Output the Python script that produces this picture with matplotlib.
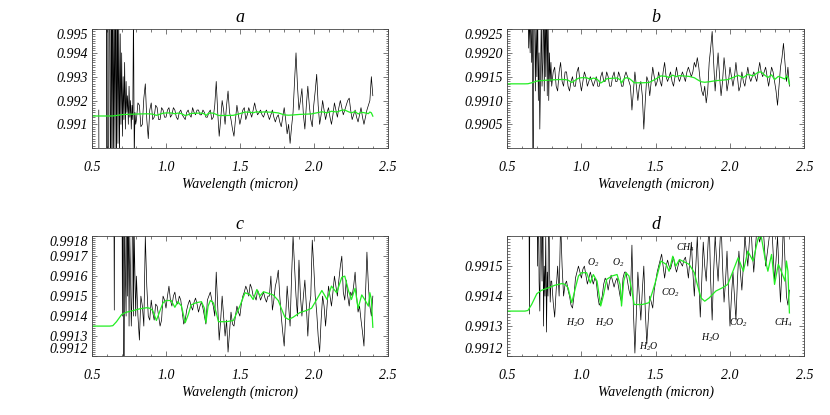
import numpy as np
import matplotlib
matplotlib.use('Agg')
import matplotlib.pyplot as plt
from matplotlib.ticker import MultipleLocator, AutoMinorLocator

plt.rcParams['font.family'] = 'Liberation Serif'
plt.rcParams['font.style'] = 'italic'
plt.rcParams['mathtext.fontset'] = 'custom'
plt.rcParams['mathtext.rm'] = 'Liberation Serif:italic'
plt.rcParams['mathtext.it'] = 'Liberation Serif:italic'

# common wavelength grid for the noisy part of the spectra (micron)
wl_main = np.round(np.arange(0.80, 2.401, 0.01), 2)

# panel a: noisy spectrum, early part then main grid
a_early_x = [0.545, 0.55, 0.595, 0.60, 0.605, 0.61, 0.615, 0.62, 0.625, 0.63, 0.635, 0.64,
             0.645, 0.65, 0.655, 0.66, 0.665, 0.67, 0.675, 0.68, 0.685, 0.69, 0.695, 0.70,
             0.705, 0.71, 0.715, 0.72, 0.725, 0.73, 0.735, 0.74, 0.745, 0.75, 0.755, 0.76,
             0.765, 0.77, 0.775, 0.78, 0.785, 0.79, 0.795]
a_early_y = [0.9916, 0.980, 0.980, 1.000, 0.982, 0.984, 1.000, 0.995, 0.986, 0.998, 0.989, 0.9975,
             0.9895, 0.996, 0.990, 0.9985, 0.9885, 0.9965, 0.9902, 0.9955, 0.9895, 0.9948, 0.9910, 0.9940,
             0.9905, 0.9930, 0.9912, 0.9936, 0.9908, 0.9928, 0.9915, 0.9922, 0.9910, 0.9926, 0.9913, 0.9920,
             0.9908, 0.9918, 0.9912, 0.9960, 0.9895, 0.9915, 0.9910]
a_main = [0.9912, 0.9919, 0.9918, 0.9909, 0.9910, 0.9921, 0.9927, 0.9912, 0.9904, 0.9916,
          0.9919, 0.9912, 0.9913, 0.9918, 0.9917, 0.9912, 0.9912, 0.9917, 0.9916, 0.9913,
          0.9913, 0.9916, 0.9917, 0.9913, 0.9914, 0.9917, 0.9916, 0.9913, 0.9912, 0.9915,
          0.9916, 0.9914, 0.9913, 0.9912, 0.9915, 0.9916, 0.9914, 0.9913, 0.9917, 0.9915,
          0.9914, 0.9916, 0.9916, 0.9914, 0.9914, 0.9916, 0.9915, 0.9913, 0.9913, 0.9915,
          0.9916, 0.9912, 0.9913, 0.9918, 0.9928, 0.9915, 0.9905, 0.9912, 0.9920, 0.9916,
          0.9910, 0.9918, 0.9924, 0.9915, 0.9912, 0.9908, 0.9905, 0.9912, 0.9918, 0.9914,
          0.9910, 0.9913, 0.9916, 0.9917, 0.9912, 0.9914, 0.9917, 0.9915, 0.9913, 0.9916,
          0.9919, 0.9916, 0.9914, 0.9915, 0.9916, 0.9914, 0.9913, 0.9915, 0.9916, 0.9914,
          0.9912, 0.9914, 0.9916, 0.9913, 0.9911, 0.9913, 0.9914, 0.9911, 0.9909, 0.9913,
          0.9917, 0.9912, 0.9906, 0.9910, 0.9902, 0.9909, 0.9915, 0.9928, 0.9940, 0.9926,
          0.9916, 0.9920, 0.9925, 0.9914, 0.9908, 0.9918, 0.9926, 0.9918, 0.9912, 0.9909,
          0.9918, 0.9924, 0.9931, 0.9918, 0.9910, 0.9914, 0.9920, 0.9916, 0.9912, 0.9915,
          0.9917, 0.9913, 0.9910, 0.9914, 0.9919, 0.9916, 0.9913, 0.9917, 0.9920, 0.9917,
          0.9914, 0.9916, 0.9918, 0.9920, 0.9921, 0.9916, 0.9912, 0.9914, 0.9916, 0.9913,
          0.9911, 0.9914, 0.9917, 0.9913, 0.9910, 0.9913, 0.9916, 0.9918, 0.9920, 0.9930,
          0.9922]

# panel b
b_early_x = [0.64, 0.645, 0.65, 0.655, 0.66, 0.665, 0.67, 0.675, 0.68, 0.685, 0.69, 0.695,
             0.70, 0.705, 0.71, 0.715, 0.72, 0.725, 0.73, 0.735, 0.74, 0.745, 0.75, 0.755,
             0.76, 0.765, 0.77, 0.775, 0.78, 0.785, 0.79, 0.795]
b_early_y = [0.9935, 0.9921, 0.9928, 0.9920, 0.9932, 0.9918, 0.9925, 0.9880, 0.9935, 0.9930, 0.9912, 0.9926,
             0.9915, 0.9932, 0.9910, 0.9920, 0.9904, 0.9915, 0.9928, 0.9913, 0.9918, 0.9935, 0.9912, 0.9930,
             0.9915, 0.9935, 0.9911, 0.9930, 0.9910, 0.9920, 0.9914, 0.9918]
b_main = [0.9913, 0.9916, 0.9917, 0.9913, 0.9912, 0.9916, 0.9918, 0.9914, 0.9913, 0.9916,
          0.9916, 0.9913, 0.9912, 0.9914, 0.9915, 0.9913, 0.9913, 0.9916, 0.9917, 0.9914,
          0.9912, 0.9914, 0.9916, 0.9915, 0.9913, 0.9914, 0.9915, 0.9914, 0.9913, 0.9914,
          0.9915, 0.9913, 0.9913, 0.9915, 0.9916, 0.9914, 0.9914, 0.9916, 0.9915, 0.9913,
          0.9913, 0.9915, 0.9916, 0.9914, 0.9914, 0.9916, 0.9915, 0.9913, 0.9913, 0.9915,
          0.9916, 0.9915, 0.9914, 0.9913, 0.9908, 0.9912, 0.9916, 0.9913, 0.9910, 0.9913,
          0.9914, 0.9911, 0.9904, 0.9910, 0.9915, 0.9914, 0.9911, 0.9914, 0.9917, 0.9915,
          0.9913, 0.9914, 0.9916, 0.9914, 0.9913, 0.9916, 0.9918, 0.9915, 0.9914, 0.9915,
          0.9916, 0.9914, 0.9913, 0.9915, 0.9917, 0.9915, 0.9914, 0.9915, 0.9916, 0.9915,
          0.9914, 0.9916, 0.9917, 0.9916, 0.9915, 0.9916, 0.9918, 0.9917, 0.9919, 0.9917,
          0.9914, 0.9912, 0.9911, 0.9913, 0.99095, 0.9912, 0.9918, 0.9921, 0.99245, 0.9918,
          0.9912, 0.9916, 0.9920, 0.9915, 0.9911, 0.9914, 0.9919, 0.9916, 0.9912, 0.9914,
          0.9917, 0.9915, 0.9913, 0.9915, 0.9918, 0.9915, 0.9912, 0.9913, 0.9916, 0.9914,
          0.9913, 0.9915, 0.9917, 0.9915, 0.9914, 0.9915, 0.9916, 0.9915, 0.9914, 0.9916,
          0.9918, 0.9916, 0.9915, 0.9916, 0.9917, 0.9915, 0.9913, 0.9915, 0.9917, 0.9916,
          0.9914, 0.9912, 0.9909, 0.9913, 0.9917, 0.9919, 0.9922, 0.9918, 0.9914, 0.9917,
          0.9913]

# panel c
c_early_x = [0.645, 0.65, 0.655, 0.70, 0.705, 0.71, 0.715, 0.72, 0.725, 0.73, 0.735, 0.74,
             0.745, 0.75, 0.755, 0.76, 0.765, 0.77, 0.775, 0.78, 0.785, 0.79, 0.795]
c_early_y = [0.9925, 0.99143, 0.9925, 0.9925, 0.9914, 0.9922, 0.9905, 0.9920, 0.9916, 0.9914, 0.9925, 0.9915,
             0.9920, 0.99135, 0.9918, 0.9916, 0.99135, 0.9915, 0.9925, 0.9914, 0.9918, 0.9916, 0.9914]
c_main = [0.99160, 0.99140, 0.99128, 0.99150, 0.99145, 0.99135, 0.99180, 0.99155, 0.99140, 0.99138,
          0.99148, 0.99142, 0.99138, 0.99146, 0.99145, 0.99140, 0.99135, 0.99138, 0.99150, 0.99148,
          0.99144, 0.99150, 0.99155, 0.99148, 0.99145, 0.99150, 0.99152, 0.99147, 0.99146, 0.99150,
          0.99148, 0.99142, 0.99136, 0.99138, 0.99143, 0.99146, 0.99148, 0.99145, 0.99143, 0.99147,
          0.99149, 0.99146, 0.99142, 0.99145, 0.99147, 0.99144, 0.99140, 0.99136, 0.99148, 0.99150,
          0.99152, 0.99148, 0.99145, 0.99140, 0.99162, 0.99145, 0.99128, 0.99138, 0.99150, 0.99140,
          0.99130, 0.99138, 0.99122, 0.99132, 0.99142, 0.99136, 0.99135, 0.99140, 0.99145, 0.99142,
          0.99140, 0.99146, 0.99150, 0.99152, 0.99155, 0.99153, 0.99150, 0.99156, 0.99154, 0.99150,
          0.99150, 0.99148, 0.99153, 0.99151, 0.99148, 0.99150, 0.99152, 0.99149, 0.99147, 0.99150,
          0.99150, 0.99160, 0.99143, 0.99148, 0.99155, 0.99158, 0.99163, 0.99150, 0.99140, 0.99132,
          0.99125, 0.99140, 0.99155, 0.99145, 0.99135, 0.99160, 0.99180, 0.99165, 0.99150, 0.99140,
          0.99168, 0.99150, 0.99140, 0.99150, 0.99158, 0.99145, 0.99130, 0.99145, 0.99150, 0.99178,
          0.99165, 0.99150, 0.99142, 0.99130, 0.99122, 0.99138, 0.99150, 0.99145, 0.99135, 0.99145,
          0.99155, 0.99150, 0.99145, 0.99152, 0.99160, 0.99155, 0.99150, 0.99158, 0.99165, 0.99170,
          0.99152, 0.99148, 0.99158, 0.99150, 0.99145, 0.99152, 0.99150, 0.99155, 0.99162, 0.99150,
          0.99142, 0.99145, 0.99138, 0.99132, 0.99125, 0.99150, 0.99172, 0.99155, 0.99145, 0.99140,
          0.99150]

# panel d
d_early_x = [0.645, 0.65, 0.655, 0.70, 0.705, 0.71, 0.715, 0.72, 0.725, 0.73, 0.735, 0.74,
             0.745, 0.75, 0.755, 0.76, 0.765, 0.77, 0.775, 0.78, 0.785, 0.79, 0.795]
d_early_y = [0.9920, 0.99134, 0.9920, 0.9920, 0.9915, 0.9918, 0.99145, 0.99135, 0.9917, 0.9916, 0.99145, 0.9918,
             0.99130, 0.99150, 0.99140, 0.99160, 0.99128, 0.99148, 0.99140, 0.9918, 0.99150, 0.99138, 0.99145]
d_main = [0.99145, 0.99138, 0.99133, 0.99142, 0.99150, 0.99140, 0.99165, 0.99150, 0.99140, 0.99144,
          0.99145, 0.99142, 0.99140, 0.99137, 0.99136, 0.99140, 0.99146, 0.99148, 0.99150, 0.99148,
          0.99146, 0.99149, 0.99150, 0.99147, 0.99144, 0.99146, 0.99148, 0.99146, 0.99144, 0.99146,
          0.99145, 0.99140, 0.99137, 0.99138, 0.99140, 0.99144, 0.99146, 0.99145, 0.99142, 0.99145,
          0.99147, 0.99145, 0.99143, 0.99145, 0.99146, 0.99143, 0.99140, 0.99138, 0.99146, 0.99148,
          0.99148, 0.99145, 0.99142, 0.99140, 0.99157, 0.99135, 0.99121, 0.99135, 0.99148, 0.99140,
          0.99132, 0.99142, 0.99150, 0.99135, 0.99124, 0.99132, 0.99140, 0.99138, 0.99136, 0.99142,
          0.99145, 0.99148, 0.99150, 0.99152, 0.99154, 0.99150, 0.99146, 0.99150, 0.99152, 0.99150,
          0.99149, 0.99151, 0.99153, 0.99150, 0.99148, 0.99150, 0.99152, 0.99151, 0.99150, 0.99152,
          0.99153, 0.99150, 0.99146, 0.99152, 0.99158, 0.99148, 0.99140, 0.99150, 0.99160, 0.99145,
          0.99133, 0.99145, 0.99158, 0.99150, 0.99145, 0.99155, 0.99165, 0.99145, 0.99132, 0.99148,
          0.99160, 0.99152, 0.99145, 0.99155, 0.99165, 0.99150, 0.99138, 0.99145, 0.99155, 0.99142,
          0.99130, 0.99140, 0.99148, 0.99140, 0.99132, 0.99145, 0.99155, 0.99148, 0.99142, 0.99150,
          0.99160, 0.99155, 0.99150, 0.99158, 0.99165, 0.99155, 0.99148, 0.99155, 0.99162, 0.99160,
          0.99158, 0.99162, 0.99165, 0.99158, 0.99150, 0.99154, 0.99158, 0.99162, 0.99165, 0.99155,
          0.99145, 0.99152, 0.99160, 0.99148, 0.99138, 0.99150, 0.99165, 0.99152, 0.99140, 0.99137,
          0.99142]

# model spectrum (green), same in all panels
model_x = [0.50, 0.62, 0.64, 0.665, 0.70, 0.73, 0.78, 0.82, 0.87, 0.89, 0.91, 0.935, 0.96, 0.98,
           1.00, 1.035, 1.06, 1.08, 1.105, 1.13, 1.15, 1.17, 1.205, 1.24, 1.26, 1.27, 1.285, 1.30,
           1.32, 1.34, 1.355, 1.41, 1.455, 1.48, 1.50, 1.535, 1.57, 1.59, 1.615, 1.635, 1.66, 1.68,
           1.725, 1.76, 1.78, 1.805, 1.83, 1.86, 1.905, 1.95, 1.985, 2.02, 2.055, 2.09, 2.12, 2.155,
           2.19, 2.21, 2.235, 2.255, 2.28, 2.30, 2.325, 2.345, 2.37, 2.38, 2.39, 2.40]
model_y = [0.99135, 0.99135, 0.991352, 0.991372, 0.991408, 0.991419, 0.991428, 0.991436, 0.991442,
           0.991439, 0.991428, 0.991378, 0.991428, 0.991467, 0.991478, 0.991478, 0.991444, 0.991472,
           0.99145, 0.991367, 0.991406, 0.991456, 0.991467, 0.991472, 0.991439, 0.991367, 0.99145,
           0.991478, 0.991467, 0.991417, 0.991372, 0.991372, 0.991378, 0.991417, 0.99145, 0.991517,
           0.991506, 0.991483, 0.991533, 0.9915, 0.991522, 0.991517, 0.991506, 0.991478, 0.991439,
           0.991394, 0.991383, 0.991394, 0.991417, 0.991428, 0.991439, 0.991483, 0.991528, 0.991483,
           0.99155, 0.991517, 0.991594, 0.9916, 0.991528, 0.991483, 0.991539, 0.991439, 0.991506,
           0.991483, 0.99145, 0.991517, 0.991483, 0.991344]

# molecule labels in panel d
mol_text = ['H$_2$O', 'H$_2$O', 'H$_2$O', 'H$_2$O', 'O$_2$', 'O$_2$',
            'CO$_2$', 'CO$_2$', 'CH$_4$', 'CH$_4$']
mol_x = [0.96, 1.16, 1.455, 1.87, 1.08, 1.25, 1.60, 2.06, 1.70, 2.36]
mol_y = [0.99131, 0.99131, 0.99123, 0.99126, 0.99151, 0.99151, 0.99141, 0.99131, 0.99156, 0.99131]

panels = [
    ('a', a_early_x, a_early_y, a_main, (0.990, 0.995), [0.991, 0.992, 0.993, 0.994, 0.995], '%.3f'),
    ('b', b_early_x, b_early_y, b_main, (0.990, 0.9925), [0.9905, 0.9910, 0.9915, 0.9920, 0.9925], '%.4f'),
    ('c', c_early_x, c_early_y, c_main, (0.9912, 0.9918),
     [0.9912, 0.9913, 0.9914, 0.9915, 0.9916, 0.9917, 0.9918], '%.4f'),
    ('d', d_early_x, d_early_y, d_main, (0.9912, 0.9916), [0.9912, 0.9913, 0.9914, 0.9915], '%.4f'),
]
rects = [[0.111, 0.643, 0.356, 0.287], [0.611, 0.643, 0.358, 0.287],
         [0.111, 0.142, 0.356, 0.289], [0.611, 0.142, 0.358, 0.289]]

fig = plt.figure(figsize=(8.3, 4.15), dpi=100)

for (name, ex, ey, main, ylim, yt, fmt), rect in zip(panels, rects):
    ax = fig.add_axes(rect)
    xs = list(ex) + list(wl_main)
    ys = list(ey) + list(main)
    ax.plot(xs, ys, color='black', lw=0.5)
    ax.plot(model_x, model_y, color='#22ee22', lw=0.9)
    ax.set_xlim(0.5, 2.5)
    ax.set_ylim(*ylim)
    ax.set_xticks([0.5, 1.0, 1.5, 2.0, 2.5])
    ax.set_xticklabels(['0.5', '1.0', '1.5', '2.0', '2.5'])
    ax.xaxis.set_minor_locator(AutoMinorLocator(5))
    ax.set_yticks(yt)
    ax.set_yticklabels([fmt % v for v in yt])
    ax.yaxis.set_minor_locator(AutoMinorLocator(10))
    ax.tick_params(which='both', direction='in', top=True, right=True, width=0.5,
                   color='#444444', labelsize=10)
    ax.tick_params(which='major', length=3.5)
    ax.tick_params(which='minor', length=1.8)
    ax.tick_params(axis='x', pad=9)
    ax.tick_params(axis='y', pad=3)
    for sp in ax.spines.values():
        sp.set_linewidth(0.6)
        sp.set_color('#444444')
    for lab in ax.get_xticklabels() + ax.get_yticklabels():
        lab.set_fontstyle('italic')
    # edge labels are pushed inside the frame, as in IDL
    for v, lab in zip(yt, ax.get_yticklabels()):
        if abs(v - ylim[1]) < 1e-7:
            lab.set_va('top')
        elif abs(v - ylim[0]) < 1e-7:
            lab.set_va('bottom')
    ax.set_title(name, fontsize=13, pad=5)
    ax.set_xlabel('Wavelength (micron)', fontsize=10, labelpad=3)
    if name == 'd':
        for t, x, y in zip(mol_text, mol_x, mol_y):
            ax.text(x, y, t, fontsize=7, ha='center', va='center')

fig.savefig('out.png', dpi=100)
